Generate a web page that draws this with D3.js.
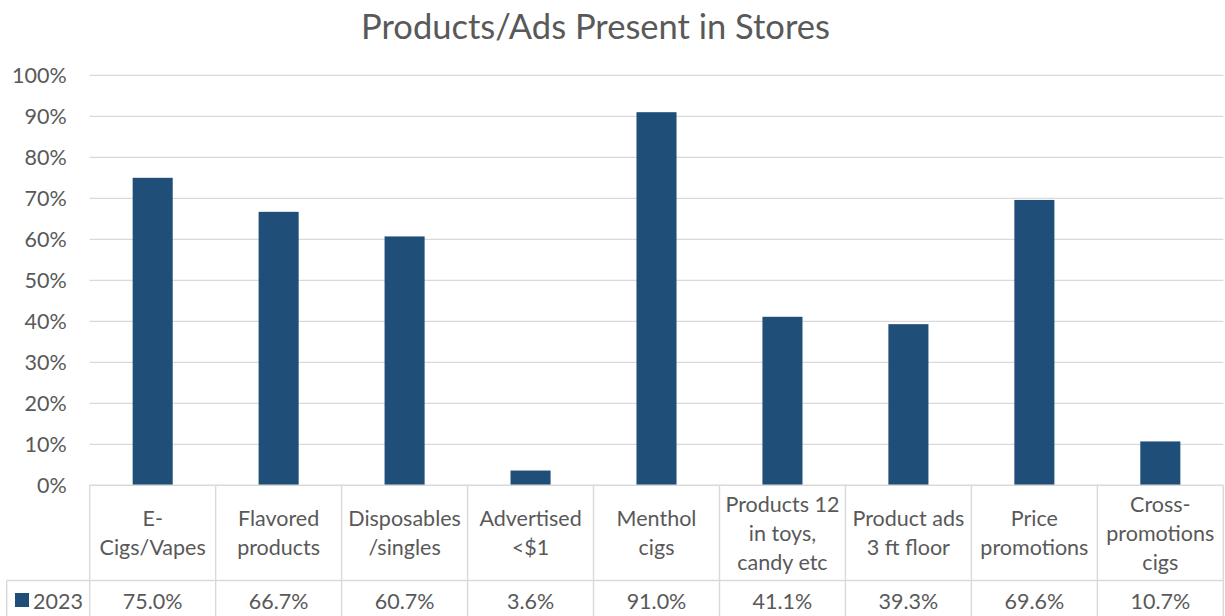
<!DOCTYPE html>
<html>
<head>
<meta charset="utf-8">
<script src="https://cdn.jsdelivr.net/npm/d3@7"></script>
<style>
  html, body { margin: 0; padding: 0; background: #fff; }
  svg { display: block; }
  text { font-family: Lato, "Open Sans", sans-serif; fill: #595959; }
</style>
</head>
<body>
<svg id="chart" width="1225" height="616"></svg>
<script>
// Category labels, one array of lines per column of the data table
const categories = [
  ["E-", "Cigs/Vapes"],
  ["Flavored", "products"],
  ["Disposables", "/singles"],
  ["Advertised", "<$1"],
  ["Menthol", "cigs"],
  ["Products 12", "in toys,", "candy etc"],
  ["Product ads", "3 ft floor"],
  ["Price", "promotions"],
  ["Cross-", "promotions", "cigs"]
];
const seriesName = "2023";
const values2023 = [75.0, 66.7, 60.7, 3.6, 91.0, 41.1, 39.3, 69.6, 10.7];
const yTicks = [0, 10, 20, 30, 40, 50, 60, 70, 80, 90, 100];
const title = "Products/Ads Present in Stores";

const W = 1225, H = 616;
const plot = { left: 89.7, right: 1223.3, top: 75.3, bottom: 485.3 };
const table = { legendLeft: 6.7, headerBottom: 580.5, rowBottom: 640 };
const barColor = "#1F4E79";
const gridColor = "#D9D9D9";
const labelSize = "21.5px";

const svg = d3.select("#chart");

const x = d3.scaleBand()
  .domain(d3.range(categories.length))
  .range([plot.left, plot.right])
  .padding(0);
const barFrac = 0.318;

const y = d3.scaleLinear().domain([0, 100]).range([plot.bottom, plot.top]);

// Title
svg.append("text")
  .attr("x", 595.5)
  .attr("y", 25)
  .attr("text-anchor", "middle")
  .attr("dominant-baseline", "central")
  .style("font-size", "34.5px")
  .text(title);

// Gridlines
svg.append("g")
  .selectAll("line")
  .data(yTicks.filter(d => d > 0))
  .join("line")
  .attr("x1", plot.left)
  .attr("x2", plot.right)
  .attr("y1", d => y(d))
  .attr("y2", d => y(d))
  .attr("stroke", gridColor)
  .attr("stroke-width", 1.3);

// Y axis labels
const yAxis = d3.axisLeft(y)
  .tickValues(yTicks)
  .tickFormat(d => d + "%")
  .tickSize(0)
  .tickPadding(0);
const yg = svg.append("g")
  .attr("transform", `translate(${plot.left - 23},0)`)
  .call(yAxis);
yg.select(".domain").remove();
yg.selectAll("text")
  .attr("dy", "0.35em")
  .style("font-size", labelSize)
  .style("font-family", "Lato, 'Open Sans', sans-serif")
  .attr("fill", "#595959");

// Bars
svg.append("g")
  .selectAll("rect")
  .data(values2023)
  .join("rect")
  .attr("x", (d, i) => x(i) + x.bandwidth() * (1 - barFrac) / 2)
  .attr("width", x.bandwidth() * barFrac)
  .attr("y", d => y(d))
  .attr("height", d => y(0) - y(d))
  .attr("fill", barColor);

// Data table borders
const tg = svg.append("g")
  .attr("stroke", gridColor)
  .attr("stroke-width", 1.4)
  .attr("fill", "none");
// zero line / header top
tg.append("line")
  .attr("x1", plot.left).attr("x2", plot.right)
  .attr("y1", plot.bottom).attr("y2", plot.bottom);
// header / value row separator
tg.append("line")
  .attr("x1", table.legendLeft).attr("x2", plot.right)
  .attr("y1", table.headerBottom).attr("y2", table.headerBottom);
// column separators
tg.selectAll("line.col")
  .data(d3.range(categories.length + 1))
  .join("line")
  .attr("class", "col")
  .attr("x1", i => i < categories.length ? x(i) : plot.right)
  .attr("x2", i => i < categories.length ? x(i) : plot.right)
  .attr("y1", plot.bottom)
  .attr("y2", table.rowBottom);
// legend cell left border
tg.append("line")
  .attr("x1", table.legendLeft).attr("x2", table.legendLeft)
  .attr("y1", table.headerBottom).attr("y2", table.rowBottom);

// Header labels
const lineH = 29;
const headerMid = (plot.bottom + table.headerBottom) / 2;
svg.append("g")
  .selectAll("text")
  .data(categories)
  .join("text")
  .attr("text-anchor", "middle")
  .style("font-size", labelSize)
  .each(function(lines, i) {
    const t = d3.select(this);
    const cx = x(i) + x.bandwidth() / 2;
    const y0 = headerMid - (lines.length - 1) * lineH / 2;
    lines.forEach((ln, k) => {
      t.append("tspan")
        .attr("x", cx)
        .attr("y", y0 + k * lineH)
        .attr("dominant-baseline", "central")
        .text(ln);
    });
  });

// Value row
const rowMid = 601;
svg.append("g")
  .selectAll("text")
  .data(values2023)
  .join("text")
  .attr("x", (d, i) => x(i) + x.bandwidth() / 2)
  .attr("y", rowMid)
  .attr("text-anchor", "middle")
  .attr("dominant-baseline", "central")
  .style("font-size", labelSize)
  .text(d => d3.format(".1f")(d) + "%");

// Legend key in the first column
svg.append("rect")
  .attr("x", 15).attr("y", 593)
  .attr("width", 14).attr("height", 14)
  .attr("fill", barColor);
svg.append("text")
  .attr("x", 33)
  .attr("y", rowMid)
  .attr("dominant-baseline", "central")
  .style("font-size", labelSize)
  .text(seriesName);
</script>
</body>
</html>
